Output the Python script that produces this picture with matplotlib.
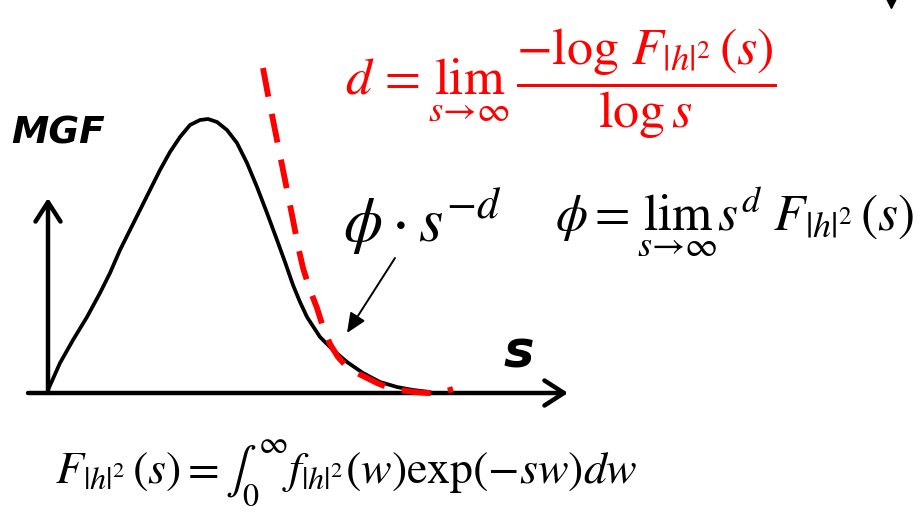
import numpy as np
import matplotlib
matplotlib.use("Agg")
import matplotlib.pyplot as plt

plt.rcParams.update({"mathtext.fontset": "stix", "font.family": "DejaVu Sans"})

# MGF sketch, in canvas units (x right, y down)
mgf_x = [48, 60, 73, 87, 100, 110, 120, 130, 140, 150, 160, 170, 180, 190, 200, 208,
         217, 227, 237, 247, 257, 267, 277, 285, 293, 300, 307, 320, 333, 347, 363,
         380, 397, 413, 430]
mgf_y = [390, 363, 340, 317, 293, 273, 250, 230, 210, 190, 170, 152, 137, 125, 120,
         119, 122, 130, 143, 163, 187, 213, 240, 262, 285, 302, 317, 337, 350, 362,
         373, 382, 387, 390, 392]

# asymptote phi * s^-d
tail_x = [263, 268, 273, 278, 283, 288, 293, 298, 303, 310, 317, 323, 330, 338, 347,
          357, 367, 377, 387, 400, 413, 427, 440, 453]
tail_y = [68, 95, 120, 145, 170, 195, 220, 246, 268, 290, 308, 327, 344, 357, 367,
          373, 378, 383, 387, 390, 392, 393, 393, 389]

origin = (48, 393)
y_tip = (48, 198)
x_tip = (568, 393)
x_start = (28, 393)

W, H = 923, 512
fig = plt.figure(figsize=(W / 100, H / 100), dpi=100)
ax = fig.add_axes([0, 0, 1, 1])
ax.set_xlim(0, W); ax.set_ylim(H, 0); ax.axis("off")

# axes with open arrowheads
arrow_open = dict(arrowstyle="->,head_length=0.7,head_width=0.45", lw=3.2,
                  color="k", mutation_scale=20, shrinkA=0, shrinkB=0)
ax.annotate("", xy=y_tip, xytext=origin, arrowprops=arrow_open)
ax.annotate("", xy=x_tip, xytext=x_start, arrowprops=arrow_open)

ax.plot(mgf_x, mgf_y, color="k", lw=2.7, solid_capstyle="round",
        solid_joinstyle="round", zorder=3)
ax.plot(tail_x, tail_y, color="#ff0000", lw=4.2, dashes=(5, 3), dash_capstyle="butt",
        dash_joinstyle="round", zorder=4)

# pointer to the tail
ax.annotate("", xy=(347, 333), xytext=(395, 258),
            arrowprops=dict(arrowstyle="-|>,head_length=0.8,head_width=0.35", lw=1.4,
                            color="k", mutation_scale=15, shrinkA=0, shrinkB=0))

ax.text(11, 144, "MGF", fontsize=27, fontweight="heavy", style="italic", va="baseline")
ax.text(503, 367, "s", fontsize=37, fontweight="heavy", style="italic", va="baseline")

ax.text(345, 84, r"$d\,=\lim_{s\rightarrow\infty}\,\dfrac{-\log\,F_{|h|^2}\,(s)}{\log s}$",
        color="#ff0000", fontsize=37.5, va="center", ha="left")
ax.text(343, 242, r"$\phi\cdot s^{-d}$", fontsize=45, va="baseline", ha="left")
ax.text(555, 222, r"$\phi=\lim_{s\rightarrow\infty}s^{d}\,F_{|h|^2}\,(s)$", fontsize=37,
        va="center", ha="left")
ax.text(55, 483, r"$F_{|h|^2}\,(s)=\int_0^{\infty}f_{|h|^2}(w)\mathrm{exp}(-sw)dw$",
        fontsize=33, va="baseline", ha="left")

ax.plot([891], [2], marker="v", color="k", ms=8)

fig.savefig("out.png", dpi=100)
